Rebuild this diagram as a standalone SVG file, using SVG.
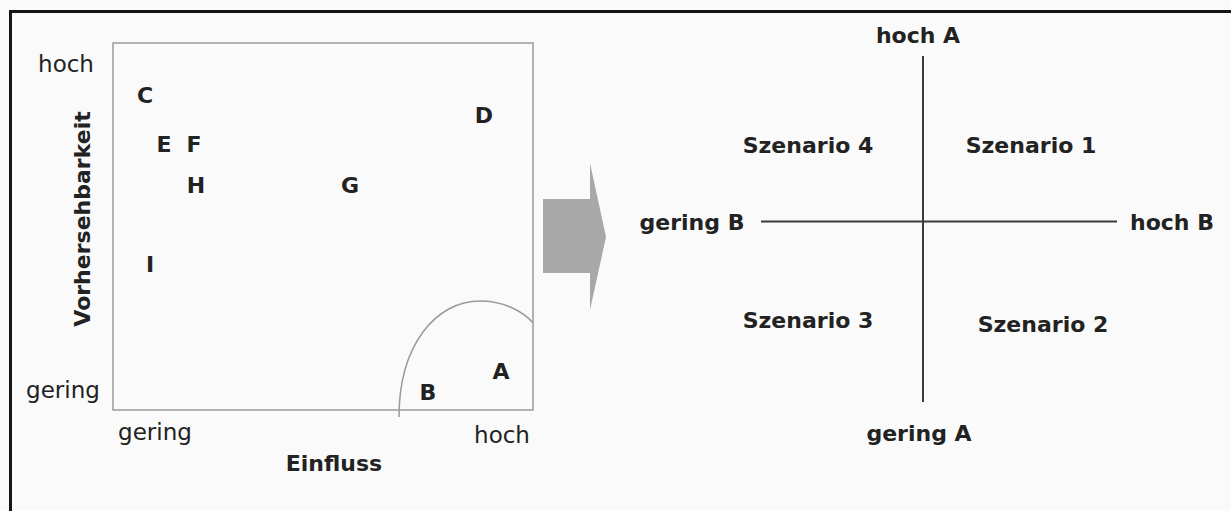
<svg xmlns="http://www.w3.org/2000/svg" width="1231" height="511" viewBox="0 0 1231 511">
  <style>
    text { font-family: "DejaVu Sans", "Liberation Sans", sans-serif; fill: #222; }
    .tick { font-size: 23px; font-weight: normal; }
    .title { font-size: 22px; font-weight: bold; }
    .pt { font-size: 22px; font-weight: bold; text-anchor: middle; }
    .lbl { font-size: 22px; font-weight: bold; }
    .frame { fill: none; stroke: #151515; stroke-width: 3; }
    .box { fill: none; stroke: #9a9a9a; stroke-width: 1.5; }
    .axis { stroke: #3a3a3a; stroke-width: 2; }
  </style>

  <rect x="0" y="0" width="1231" height="511" fill="#fafafa"/>
  <path class="frame" d="M10.5 520 V11.5 H1240"/>

  <!-- Portfolio: Einfluss vs. Vorhersehbarkeit -->
  <g id="portfolio">
    <rect class="box" x="113" y="43" width="420" height="367"/>
    <path class="box" d="M399 417 C399 345 436 301 480 301 C503 301 523 311 533 323"/>
    <text class="tick" x="66" y="72" text-anchor="middle">hoch</text>
    <text class="tick" x="63" y="398" text-anchor="middle">gering</text>
    <text class="tick" x="155" y="440" text-anchor="middle">gering</text>
    <text class="tick" x="502" y="443" text-anchor="middle">hoch</text>
    <text class="title" x="334" y="471" text-anchor="middle">Einfluss</text>
    <text class="title" transform="translate(90 219) rotate(-90)" text-anchor="middle">Vorhersehbarkeit</text>
  </g>

  <g id="factors">
    <text id="factor-C" class="pt" x="145" y="103">C</text>
    <text id="factor-D" class="pt" x="484" y="123">D</text>
    <text id="factor-E" class="pt" x="164" y="152">E</text>
    <text id="factor-F" class="pt" x="194" y="152">F</text>
    <text id="factor-H" class="pt" x="196" y="193">H</text>
    <text id="factor-G" class="pt" x="350" y="193">G</text>
    <text id="factor-I" class="pt" x="150" y="272">I</text>
    <text id="factor-A" class="pt" x="501" y="379">A</text>
    <text id="factor-B" class="pt" x="428" y="400">B</text>
  </g>

  <!-- Transition arrow -->
  <g id="arrow">
    <path d="M543 199 H590 V163 L606 237 L590 310 V273 H543 Z" fill="#a8a8a8"/>
  </g>

  <!-- Scenario cross -->
  <g id="connectors">
    <line class="axis" x1="923" y1="56" x2="923" y2="402"/>
    <line class="axis" x1="761" y1="221.5" x2="1117" y2="221.5"/>
  </g>

  <g id="scenarios">
    <text class="lbl" x="918" y="43" text-anchor="middle">hoch A</text>
    <text class="lbl" x="919" y="441" text-anchor="middle">gering A</text>
    <text class="lbl" x="692" y="230" text-anchor="middle">gering B</text>
    <text class="lbl" x="1172" y="230" text-anchor="middle">hoch B</text>
    <text id="szenario-4" class="lbl" x="808" y="153" text-anchor="middle">Szenario 4</text>
    <text id="szenario-1" class="lbl" x="1031" y="153" text-anchor="middle">Szenario 1</text>
    <text id="szenario-3" class="lbl" x="808" y="328" text-anchor="middle">Szenario 3</text>
    <text id="szenario-2" class="lbl" x="1043" y="332" text-anchor="middle">Szenario 2</text>
  </g>
</svg>
